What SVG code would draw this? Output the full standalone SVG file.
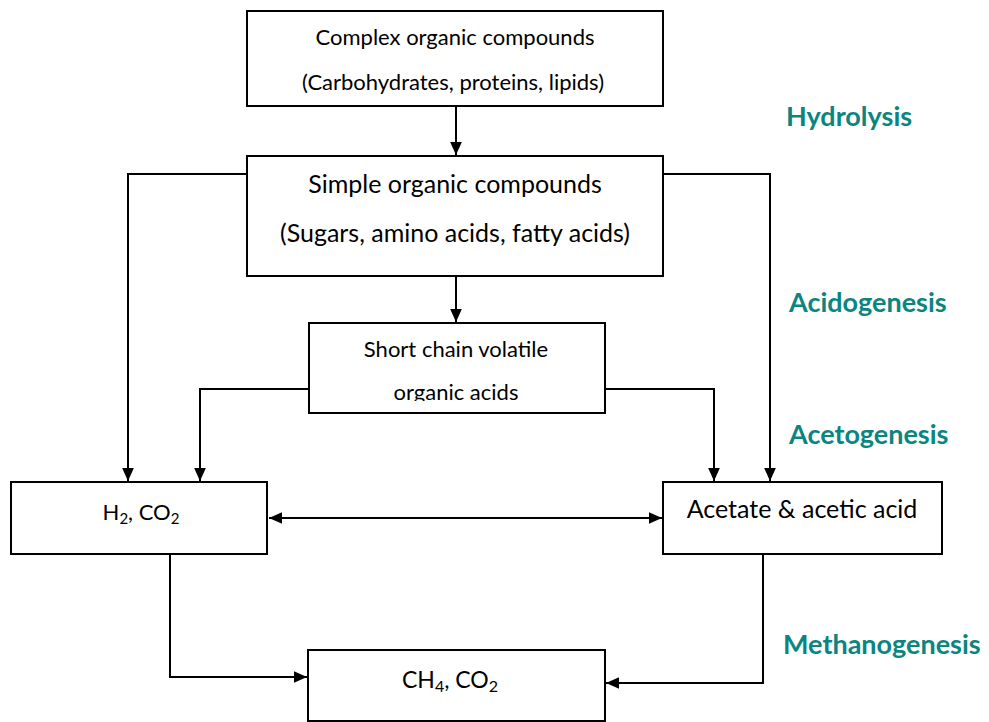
<svg xmlns="http://www.w3.org/2000/svg" width="989" height="722" viewBox="0 0 989 722">
<style>
.box{fill:#fff;stroke:#000;stroke-width:2}
.t{font-family:Lato,"Open Sans","Liberation Sans",sans-serif;fill:#000;text-anchor:middle}
.lbl{font-family:Lato,"Open Sans","Liberation Sans",sans-serif;font-weight:bold;fill:#0b8580;font-size:27px}
.c{fill:none;stroke:#000;stroke-width:2}
</style>
<defs>
<marker id="ah" viewBox="0 0 10 10" refX="10" refY="5" markerWidth="13" markerHeight="13" markerUnits="userSpaceOnUse" orient="auto-start-reverse">
<path d="M0,0.5 L10,5 L0,9.5 z" fill="#000"/>
</marker>
<clipPath id="clip3"><rect x="300" y="320" width="320" height="81"/></clipPath>
</defs>
<rect width="989" height="722" fill="#fff"/>
<g id="connectors">
<path class="c" d="M456,106 V155" marker-end="url(#ah)"/>
<path class="c" d="M247,174 H128 V481" marker-end="url(#ah)"/>
<path class="c" d="M663,174 H770 V481" marker-end="url(#ah)"/>
<path class="c" d="M456,276 V322" marker-end="url(#ah)"/>
<path class="c" d="M309,389 H200 V481" marker-end="url(#ah)"/>
<path class="c" d="M605,389 H714 V481" marker-end="url(#ah)"/>
<path class="c" d="M269,518 H662" marker-start="url(#ah)" marker-end="url(#ah)"/>
<path class="c" d="M170,554 V677 H307" marker-end="url(#ah)"/>
<path class="c" d="M763,554 V683 H606" marker-end="url(#ah)"/>
</g>
<g id="complex">
<rect class="box" x="247" y="11" width="416" height="95"/>
<text class="t" x="455" y="45" font-size="22">Complex organic compounds</text>
<text class="t" x="453" y="90" font-size="22">(Carbohydrates, proteins, lipids)</text>
</g>
<g id="simple">
<rect class="box" x="247" y="156" width="416" height="120"/>
<text class="t" x="455" y="193" font-size="25">Simple organic compounds</text>
<text class="t" x="455" y="242" font-size="25">(Sugars, amino acids, fatty acids)</text>
</g>
<g id="vfa">
<rect class="box" x="309" y="323" width="296" height="90"/>
<text class="t" x="456" y="357" font-size="22">Short chain volatile</text>
<text class="t" x="456" y="400" font-size="22" clip-path="url(#clip3)">organic acids</text>
</g>
<g id="h2co2">
<rect class="box" x="11" y="482" width="256" height="72"/>
<text class="t" x="141" y="520" font-size="22">H<tspan font-size="15" dy="4">2</tspan><tspan dy="-4">, CO</tspan><tspan font-size="15" dy="4">2</tspan></text>
</g>
<g id="acetate">
<rect class="box" x="663" y="482" width="279" height="72"/>
<text class="t" x="802" y="518" font-size="25">Acetate &amp; acetic acid</text>
</g>
<g id="ch4co2">
<rect class="box" x="308" y="650" width="297" height="71"/>
<text class="t" x="450" y="688" font-size="23">CH<tspan font-size="16" dy="4">4</tspan><tspan dy="-4">, CO</tspan><tspan font-size="16" dy="4">2</tspan></text>
</g>
<g id="labels">
<text class="lbl" x="786" y="126">Hydrolysis</text>
<text class="lbl" x="789" y="312">Acidogenesis</text>
<text class="lbl" x="789" y="444">Acetogenesis</text>
<text class="lbl" x="783" y="654">Methanogenesis</text>
</g>
</svg>
